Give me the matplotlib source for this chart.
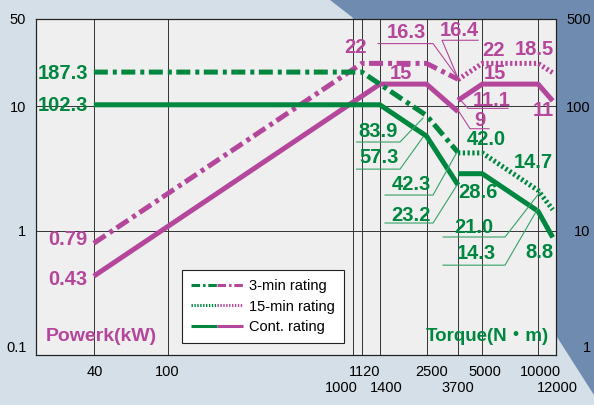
import matplotlib.pyplot as plt
from matplotlib.lines import Line2D
from matplotlib.legend_handler import HandlerTuple
from matplotlib.patches import Polygon
from matplotlib.ticker import NullLocator
from matplotlib.transforms import Affine2D, ScaledTranslation

# spindle speed (min-1)
speed_3min = [40, 1120, 2500, 3700]
speed_15min = [3700, 5000, 10000, 12000]
speed_cont_low = [40, 1400, 2500, 3700]
speed_cont_high = [3700, 5000, 10000, 12000]

# output (kW)
power_3min = [0.79, 22, 22, 16.4]
power_15min = [16.3, 22, 22, 18.5]
power_cont_low = [0.43, 15, 15, 9]
power_cont_high = [11.1, 15, 15, 11]

# torque (N·m)
torque_3min = [187.3, 187.3, 83.9, 42.3]
torque_15min = [42.0, 42.0, 21.0, 14.7]
torque_cont_low = [102.3, 102.3, 57.3, 23.2]
torque_cont_high = [28.6, 28.6, 14.3, 8.8]

speed_ticks = [40, 100, 1000, 1120, 1400, 2500, 3700, 5000, 10000, 12000]
speed_tick_labels = ['40', '100', '1000', '1120', '1400', '2500', '3700', '5000', '10000', '12000']
power_ticks = [0.1, 1, 10, 50]
power_tick_labels = ['0.1', '1', '10', '50']
torque_ticks = [1, 10, 100, 500]
torque_tick_labels = ['1', '10', '100', '500']
legend_labels = ['3-min rating', '15-min rating', 'Cont. rating']

MAGENTA = '#B4479B'
GREEN = '#00873F'
LEAD_GREEN = '#35A265'
DASHDOT = (2.8, 1.0, 0.8, 0.9)
DOTTED = (0.45, 0.5)
LW = 3.6

plt.rcParams['font.family'] = ['Liberation Sans', 'DejaVu Sans']

fig = plt.figure(figsize=(5.94, 4.05), dpi=100, facecolor='#D4DFE7')
fig.add_artist(Polygon([(0.5556, 1.0), (1.0, 1.0), (1.0, 0.0247), (0.9377, 0.1679), (0.5926, 0.958)],
                       closed=True, transform=fig.transFigure, facecolor='#6F8CB0',
                       edgecolor='none', zorder=-1))

ax = fig.add_axes([36 / 594, 50 / 405, 520 / 594, 336 / 405])
ax.set_facecolor('#EFEFEF')
ax.set_xscale('log')
ax.set_yscale('log')
ax.set_xlim(19.5, 12500)
ax.set_ylim(0.1, 50)
ax2 = ax.twinx()
ax2.set_yscale('log')
ax2.set_ylim(1, 500)
ax.set_xlim(19.5, 12500)

for a in (ax, ax2):
    for s in a.spines.values():
        s.set_linewidth(0.8)
        s.set_color('#222222')

# grid
ax.set_xticks(speed_ticks[:-1], labels=[''] * (len(speed_ticks) - 1))
ax.xaxis.set_minor_locator(NullLocator())
ax.set_yticks(power_ticks, labels=power_tick_labels)
ax.yaxis.set_minor_locator(NullLocator())
ax.grid(True, color='#333333', lw=0.7)
ax.tick_params(length=0)
ax.tick_params(axis='y', pad=7, labelsize=10.5)
for lbl in ax.get_yticklabels()[:1]:
    lbl.set_verticalalignment('bottom')

ax2.set_yticks(torque_ticks, labels=torque_tick_labels)
ax2.yaxis.set_minor_locator(NullLocator())
ax2.tick_params(axis='y', length=0, pad=25, labelsize=10.5)
for lbl in ax2.get_yticklabels():
    lbl.set_horizontalalignment('right')
ax2.get_yticklabels()[0].set_verticalalignment('bottom')

# bottom labels in two rows
label_row = [0, 0, 1, 0, 1, 0, 1, 0, 0, 1]
label_dx = [1, 0, -11, 3, 6, 5, 0, 3, 2, 5]
for sp, txt, row, dx in zip(speed_ticks, speed_tick_labels, label_row, label_dx):
    ax.annotate(txt, (sp, 0), xycoords=('data', 'axes fraction'),
                xytext=(dx, -17 - 16 * row), textcoords='offset pixels',
                ha='center', va='center', fontsize=10.5, annotation_clip=False)

# power curves
ax.plot(speed_3min, power_3min, color=MAGENTA, lw=LW, dashes=DASHDOT)
ax.plot(speed_15min, power_15min, color=MAGENTA, lw=LW, dashes=DOTTED)
ax.plot(speed_cont_low, power_cont_low, color=MAGENTA, lw=LW, solid_capstyle='butt')
ax.plot(speed_cont_high, power_cont_high, color=MAGENTA, lw=LW, solid_capstyle='butt')

# torque curves
ax2.plot(speed_3min, torque_3min, color=GREEN, lw=LW, dashes=DASHDOT)
ax2.plot(speed_15min, torque_15min, color=GREEN, lw=LW, dashes=DOTTED)
ax2.plot(speed_cont_low, torque_cont_low, color=GREEN, lw=LW, solid_capstyle='butt')
ax2.plot(speed_cont_high, torque_cont_high, color=GREEN, lw=LW, solid_capstyle='butt')


def note(a, text, x, y, dx, dy, color, ha='center', leader=None, lcolor=None):
    a.annotate(text, (x, y), xytext=(dx, dy), textcoords='offset pixels',
               ha=ha, va='center', color=color, fontsize=14.5, fontweight='bold')
    if leader:
        tr = Affine2D() + ScaledTranslation(x, y, a.transData)
        xs, ys = zip(*leader)
        a.plot(xs, ys, color=lcolor or color, lw=0.8, transform=tr, clip_on=False)


# power labels
note(ax, '0.79', speed_3min[0], power_3min[0], -6, 4, MAGENTA, ha='right')
note(ax, '0.43', speed_cont_low[0], power_cont_low[0], -6, -3, MAGENTA, ha='right')
note(ax, '22', speed_3min[1], power_3min[1], -6, 16, MAGENTA)
note(ax, '15', speed_cont_low[1], power_cont_low[1], 21, 11, MAGENTA)
note(ax, '16.3', speed_15min[0], power_15min[0], -52, 47, MAGENTA,
     leader=[(-80, 36), (-25, 36), (-1, 3)])
note(ax, '16.4', speed_3min[3], power_3min[3], 1, 49, MAGENTA,
     leader=[(20, 39), (-16, 39), (0, 1)])
note(ax, '22', speed_15min[1], power_15min[1], 11, 13, MAGENTA)
note(ax, '18.5', speed_15min[3], power_15min[3], -18, 23, MAGENTA)
note(ax, '15', speed_cont_high[1], power_cont_high[1], 13, 11, MAGENTA)
note(ax, '11.1', speed_cont_high[0], power_cont_high[0], 34, 0, MAGENTA,
     leader=[(50, -8), (10, -8), (0, 3)])
note(ax, '9', speed_cont_low[3], power_cont_low[3], 22, -9, MAGENTA,
     leader=[(31, -17), (12, -17), (-1, 3)])
note(ax, '11', speed_cont_high[3], power_cont_high[3], -9, -10, MAGENTA)

# torque labels
note(ax2, '187.3', speed_3min[0], torque_3min[0], -6, -1, GREEN, ha='right')
note(ax2, '102.3', speed_cont_low[0], torque_cont_low[0], -6, -1, GREEN, ha='right')
note(ax2, '83.9', speed_3min[2], torque_3min[2], -48, -16, GREEN,
     leader=[(-70, -26.5), (-26.5, -26.5), (-3.5, -2.5)], lcolor=LEAD_GREEN)
note(ax2, '57.3', speed_cont_low[2], torque_cont_low[2], -47, -21, GREEN,
     leader=[(-70, -33), (-26.5, -33), (-3.5, -1)], lcolor=LEAD_GREEN)
note(ax2, '42.3', speed_3min[3], torque_3min[3], -47, -31.5, GREEN,
     leader=[(-73, -42.5), (-25, -42.5), (-1, 0.5)], lcolor=LEAD_GREEN)
note(ax2, '23.2', speed_cont_low[3], torque_cont_low[3], -47, -30, GREEN,
     leader=[(-73, -38), (-25, -38), (-1, 0)], lcolor=LEAD_GREEN)
note(ax2, '42.0', speed_15min[1], torque_15min[1], 4, 13, GREEN)
note(ax2, '28.6', speed_cont_high[1], torque_cont_high[1], -4, -19, GREEN)
note(ax2, '14.7', speed_15min[3], torque_15min[3], -19, 47, GREEN)
note(ax2, '21.0', speed_15min[2], torque_15min[2], -64, -37.6, GREEN,
     leader=[(-95, -46.6), (-33, -46.6), (2, -1.6)], lcolor=LEAD_GREEN)
note(ax2, '14.3', speed_cont_high[2], torque_cont_high[2], -62, -42, GREEN,
     leader=[(-95, -54), (-33, -54), (0, 3)], lcolor=LEAD_GREEN)
note(ax2, '8.8', speed_cont_high[3], torque_cont_high[3], -13, -15, GREEN)

ax2.text(0.125, 0.0565, 'Powerk(kW)', transform=ax2.transAxes, ha='center', va='center',
         color=MAGENTA, fontsize=14, fontweight='bold')
ax2.text(0.867, 0.0565, 'Torque(N・m)', transform=ax2.transAxes, ha='center', va='center',
         color=GREEN, fontsize=13.5, fontweight='bold',
         family=['Liberation Sans', 'Noto Sans CJK JP'])

# legend with two-colour samples
handles = []
for style in ({'dashes': DASHDOT}, {'dashes': DOTTED}, {'solid_capstyle': 'butt'}):
    handles.append((Line2D([], [], color=GREEN, lw=2.2, **style),
                    Line2D([], [], color=MAGENTA, lw=2.2, **style)))
leg = ax2.legend(handles, legend_labels, handler_map={tuple: HandlerTuple(ndivide=None, pad=0)},
                 loc='lower left', bbox_to_anchor=(0.281, 0.036), borderaxespad=0,
                 fancybox=False, edgecolor='#222222', framealpha=1, facecolor='white',
                 handlelength=3.6, fontsize=10.5, labelspacing=0.45, handletextpad=0.4,
                 borderpad=0.6)
leg.get_frame().set_linewidth(0.8)

ax.set_xlim(19.5, 12500)
ax.set_ylim(0.1, 50)
ax2.set_ylim(1, 500)

fig.savefig('out.png', dpi=100, facecolor=fig.get_facecolor())
